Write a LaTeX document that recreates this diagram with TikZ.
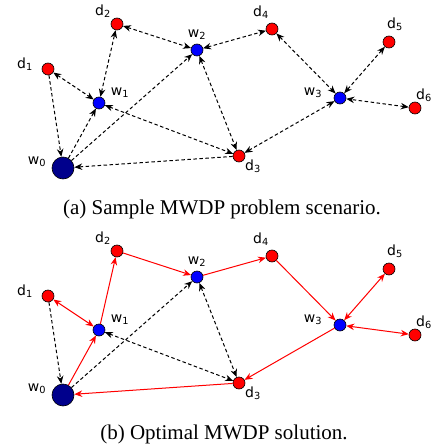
\documentclass[tikz,border=0pt]{standalone}
\usepackage{fontspec}
\setmainfont{Liberation Serif}
\newfontfamily\labelfont{DejaVu Sans}
\usetikzlibrary{arrows.meta}

\begin{document}
\begin{tikzpicture}[x=1pt,y=-1pt,
    dest/.style={circle,draw=black,line width=0.6pt,fill=red,inner sep=0pt,minimum size=12pt},
    depot/.style={circle,draw=black,line width=0.6pt,fill=blue,inner sep=0pt,minimum size=12pt},
    home/.style={circle,draw=black,line width=0.6pt,fill=blue!55!black,inner sep=0pt,minimum size=22pt},
    lbl/.style={font=\labelfont\fontsize{14}{16}\selectfont,inner sep=0pt},
    subcap/.style={font=\fontsize{21}{24}\selectfont,inner sep=0pt},
    >={Stealth[length=8pt,width=6.5pt]},
    cand/.style={line width=1pt,dash pattern=on 3.5pt off 2.5pt},
    route/.style={line width=1pt,red}]
      \useasboundingbox (0,0) rectangle (432,447);
      % (a) scenario
      \node[home] (w0) at (63,168) {};
      \node[depot] (w1) at (99,103) {};
      \node[depot] (w2) at (197,50) {};
      \node[depot] (w3) at (340,98) {};
      \node[dest] (d1) at (48,69) {};
      \node[dest] (d2) at (117,24) {};
      \node[dest] (d3) at (239,156) {};
      \node[dest] (d4) at (272,29) {};
      \node[dest] (d5) at (389,42) {};
      \node[dest] (d6) at (415,108) {};
      \node[lbl] (w0Lbl) at (37,162) {w\textsubscript{0}};
      \node[lbl] (w1Lbl) at (120,93) {w\textsubscript{1}};
      \node[lbl] (w2Lbl) at (197,35) {w\textsubscript{2}};
      \node[lbl] (w3Lbl) at (313,93) {w\textsubscript{3}};
      \node[lbl] (d1Lbl) at (25,64) {d\textsubscript{1}};
      \node[lbl] (d2Lbl) at (103,11) {d\textsubscript{2}};
      \node[lbl] (d3Lbl) at (253,166) {d\textsubscript{3}};
      \node[lbl] (d4Lbl) at (261,12) {d\textsubscript{4}};
      \node[lbl] (d5Lbl) at (395,24) {d\textsubscript{5}};
      \node[lbl] (d6Lbl) at (424,95) {d\textsubscript{6}};
      \draw[cand,<->] (d1) -- (w1);
      \draw[cand,->] (d1) -- (w0);
      \draw[cand,->] (w0) -- (w1);
      \draw[cand,<->] (w1) -- (d2);
      \draw[cand,<->] (d2) -- (w2);
      \draw[cand,->] (w0) -- (w2);
      \draw[cand,<->] (w2) -- (d4);
      \draw[cand,<->] (w2) -- (d3);
      \draw[cand,<->] (w1) -- (d3);
      \draw[cand,->] (d3) -- (w0);
      \draw[cand,<->] (d3) -- (w3);
      \draw[cand,<->] (d4) -- (w3);
      \draw[cand,<->] (d5) -- (w3);
      \draw[cand,<->] (d6) -- (w3);
      \node[subcap] (capA) at (222,209) {(a) Sample MWDP problem scenario.};
      % (b) solution
      \begin{scope}[yshift=-227pt]
      \node[home] (bw0) at (63,168) {};
      \node[depot] (bw1) at (99,103) {};
      \node[depot] (bw2) at (197,50) {};
      \node[depot] (bw3) at (340,98) {};
      \node[dest] (bd1) at (48,69) {};
      \node[dest] (bd2) at (117,24) {};
      \node[dest] (bd3) at (239,156) {};
      \node[dest] (bd4) at (272,29) {};
      \node[dest] (bd5) at (389,42) {};
      \node[dest] (bd6) at (415,108) {};
      \node[lbl] (bw0Lbl) at (37,162) {w\textsubscript{0}};
      \node[lbl] (bw1Lbl) at (120,93) {w\textsubscript{1}};
      \node[lbl] (bw2Lbl) at (197,35) {w\textsubscript{2}};
      \node[lbl] (bw3Lbl) at (313,93) {w\textsubscript{3}};
      \node[lbl] (bd1Lbl) at (25,64) {d\textsubscript{1}};
      \node[lbl] (bd2Lbl) at (103,11) {d\textsubscript{2}};
      \node[lbl] (bd3Lbl) at (253,166) {d\textsubscript{3}};
      \node[lbl] (bd4Lbl) at (261,12) {d\textsubscript{4}};
      \node[lbl] (bd5Lbl) at (395,24) {d\textsubscript{5}};
      \node[lbl] (bd6Lbl) at (424,95) {d\textsubscript{6}};
      \draw[cand,->] (bd1) -- (bw0);
      \draw[cand,->] (bw0) -- (bw2);
      \draw[cand,<->] (bw1) -- (bd3);
      \draw[cand,<->] (bw2) -- (bd3);
      \draw[route,<->] (bd1) -- (bw1);
      \draw[route,->] (bw0) -- (bw1);
      \draw[route,->] (bw1) -- (bd2);
      \draw[route,->] (bd2) -- (bw2);
      \draw[route,->] (bw2) -- (bd4);
      \draw[route,->] (bd4) -- (bw3);
      \draw[route,<->] (bd5) -- (bw3);
      \draw[route,<->] (bd6) -- (bw3);
      \draw[route,->] (bw3) -- (bd3);
      \draw[route,->] (bd3) -- (bw0);
      \node[subcap] (capB) at (224,207) {(b) Optimal MWDP solution.};
      \end{scope}
\end{tikzpicture}
\end{document}
